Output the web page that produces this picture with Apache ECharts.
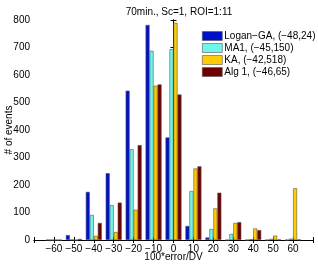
<!DOCTYPE html>
<html><head><meta charset="utf-8">
<script src="https://cdn.jsdelivr.net/npm/echarts@6/dist/echarts.min.js"></script>
<style>html,body{margin:0;padding:0;background:#fff}#c{width:318px;height:266px}</style>
</head><body><div id="c"></div>
<script>
const categories = [-60,-50,-40,-30,-20,-10,0,10,20,30,40,50,60];
const loganGA = [0,18,175,243,543,782,373,51,9,0,0,0,0];
const ma1     = [0,1,91,127,330,688,694,178,40,22,3,4,5];
const ka      = [0,0,15,29,110,561,790,260,115,62,42,16,188];
const alg1    = [0,4,62,136,345,566,529,268,172,65,36,2,2];
const seriesNames = ['Logan\u2212GA, (\u221248,24)','MA1, (\u221245,150)','KA, (\u221242,518)','Alg 1, (\u221246,65)'];
const colors = ['#0010C8','#6EF7E6','#FFCC00','#700000'];
const yTicks = [0,100,200,300,400,500,600,700,800];

const font = 'Liberation Sans, Arial, sans-serif';
const fmt = v => (v < 0 ? '\u2212' + Math.abs(v) : String(v));
const chart = echarts.init(document.getElementById('c'), null, {renderer:'canvas'});
const mk = (name, vals, i) => ({
  name, type:'bar', barWidth:4, barGap:'0%',
  data: categories.map((c, k) => [c, vals[k]]),
  itemStyle:{color:colors[i], borderColor:'#555', borderWidth:0.6},
  xAxisIndex:0, yAxisIndex:0
});
chart.setOption({
  animation:false,
  title:{text:'70min., Sc=1, ROI=1:11', left:174, textAlign:'center', top:2,
    textStyle:{fontSize:10, fontWeight:'normal', color:'#000', fontFamily:font}},
  grid:{left:34, right:5, top:20, bottom:26, containLabel:false, outerBoundsMode:'none'},
  legend:{orient:'vertical', left:197, top:26, itemWidth:20, itemHeight:9, itemGap:2,
    icon:'rect', data:seriesNames,
    textStyle:{fontSize:10, color:'#000', fontFamily:font, padding:[0,0,0,-3], lineHeight:10},
    itemStyle:{borderColor:'#555', borderWidth:0.6}},
  xAxis:[{type:'value', min:-70, max:70, interval:10,
    name:'100*error/DV', nameLocation:'middle', nameGap:12, nameMoveOverlap:false,
    nameTextStyle:{fontSize:10, color:'#000', fontFamily:font},
    axisLine:{lineStyle:{color:'#000', width:1}},
    axisTick:{inside:true, length:3, lineStyle:{color:'#000'}},
    axisLabel:{fontSize:10, color:'#000', fontFamily:font, margin:4,
      formatter:v => (Math.abs(v) >= 70 ? '' : fmt(v))},
    splitLine:{show:false}},
   {type:'value', position:'top', min:-70, max:70, interval:10,
    axisLine:{lineStyle:{color:'#000', width:1}},
    axisTick:{inside:true, length:3, lineStyle:{color:'#000'}},
    axisLabel:{show:false}, splitLine:{show:false}}],
  yAxis:[{type:'value', min:0, max:800, interval:100,
    name:'# of events', nameLocation:'middle', nameGap:20, nameMoveOverlap:false,
    nameTextStyle:{fontSize:10, color:'#000', fontFamily:font},
    axisLine:{show:true, lineStyle:{color:'#000', width:1}},
    axisTick:{show:true, inside:true, length:3, lineStyle:{color:'#000'}},
    axisLabel:{fontSize:10, color:'#000', fontFamily:font, margin:4,
      formatter:v => (yTicks.includes(v) ? String(v) : '')},
    splitLine:{show:false}},
   {type:'value', position:'right', min:0, max:800, interval:100,
    axisLine:{show:true, lineStyle:{color:'#000', width:1}},
    axisTick:{show:true, inside:true, length:3, lineStyle:{color:'#000'}},
    axisLabel:{show:false}, splitLine:{show:false}}],
  series:[mk(seriesNames[0], loganGA, 0), mk(seriesNames[1], ma1, 1),
          mk(seriesNames[2], ka, 2), mk(seriesNames[3], alg1, 3)]
});
</script></body></html>
